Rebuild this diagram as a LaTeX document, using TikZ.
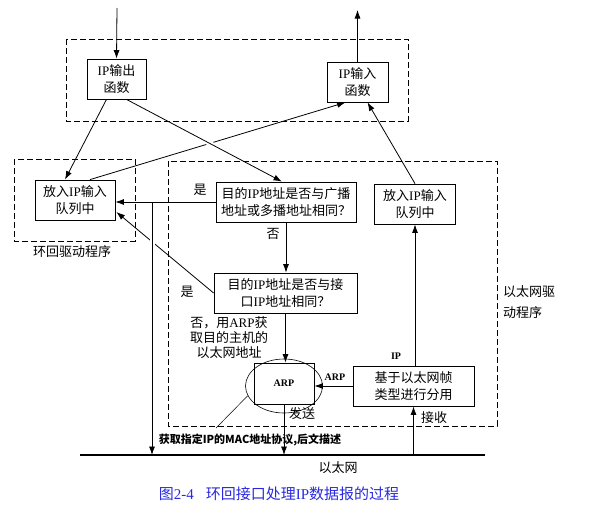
\documentclass[tikz,border=0pt]{standalone}
\usepackage{fontspec}
\setmainfont{Noto Sans CJK SC}
\newfontfamily\serifen{Liberation Serif}
\usetikzlibrary{arrows.meta,shapes.geometric,calc}
\newcommand\en[1]{{\serifen #1}}
\definecolor{capblue}{RGB}{40,40,225}
\begin{document}
\begin{tikzpicture}[x=1pt,y=-1pt,
  box/.style={draw, line width=0.8pt, inner sep=0pt, align=center, font=\fontsize{13}{17}\selectfont},
  grp/.style={draw, dash pattern=on 6pt off 3pt, line width=0.8pt},
  arr/.style={-{Latex[length=8.5pt,width=6pt]}, line width=0.8pt},
  lbl/.style={font=\fontsize{13}{17}\selectfont, inner sep=0pt},
  small/.style={font=\serifen\bfseries\fontsize{10}{12}\selectfont, inner sep=0pt},
  gap/.style={draw=white, line width=5pt},
]
\useasboundingbox (0,0) rectangle (589,509);
% dashed groups
\draw[grp] (66,39) rectangle (408,121);
\draw[grp] (14,159) rectangle (135,241);
\draw[grp] (168,161) rectangle (497,426);
% boxes
\node[box, minimum width=59pt, minimum height=40pt] (outfn) at (116.5,79) {\en{IP}输出\\函数};
\node[box, minimum width=61pt, minimum height=40pt] (infn) at (357.5,82) {\en{IP}输入\\函数};
\node[box, minimum width=80pt, minimum height=40pt] (lq) at (75,200) {放入\en{IP}输入\\队列中};
\node[box, minimum width=81pt, minimum height=40pt] (rq) at (415,204) {放入\en{IP}输入\\队列中};
\node[box, minimum width=140pt, minimum height=40pt] (d1) at (286,202) {目的\en{IP}地址是否与广播\\地址或多播地址相同？};
\node[box, minimum width=143pt, minimum height=40pt] (d2) at (285.5,293) {目的\en{IP}地址是否与接\\口\en{IP}地址相同？};
\node[box, minimum width=60pt, minimum height=41pt] (arp) at (284,383.5) {\en{\bfseries\fontsize{10}{12}\selectfont ARP}};
\node[draw, ellipse, line width=0.6pt, minimum width=77pt, minimum height=54pt, inner sep=0pt] (ell) at (284,386) {};
\node[box, minimum width=121pt, minimum height=40pt] (demux) at (413.5,386) {基于以太网帧\\类型进行分用};
% ethernet
\coordinate (e1) at (80,455);
\coordinate (e2) at (485,455);
\draw[line width=2.5pt] (e1) -- (e2);
% external arrows
\coordinate (intop) at (117,8);
\coordinate (outtop) at (358,10);
\draw[arr] (intop) -- (outfn.north);
\draw[arr] (infn.north) -- (infn.north |- outtop);
% lq -> infn
\draw[arr] ($(lq.north)+(15,0)$) -- ($(infn.south)+(-12,0)$);
% outfn -> lq
\draw[arr] ($(outfn.south)+(-10,0)$) -- ($(lq.north)+(-10,0)$);
% outfn -> d1 with gap over previous line
\path ($(outfn.south)+(10,0)$) -- ($(d1.north)+(-4,0)$) coordinate[pos=0.49] (bw1) coordinate[pos=0.59] (bw2);
\draw[gap] (bw1) -- (bw2);
\draw[arr] ($(outfn.south)+(10,0)$) -- ($(d1.north)+(-4,0)$);
% rq -> infn
\draw[arr] (rq.north) -- ($(infn.south)+(10,0)$);
% d1 -> lq (yes)
\draw[arr] (d1.west) -- (d1.west -| lq.east);
\coordinate (j) at (152,202);
% d2 -> lq (yes)
\draw[arr] (d2.west) -- ($(lq.east)+(1,12)$);
\draw[gap] (152,234) -- (152,250);
% loopback down to ethernet
\draw[arr] (j) -- (j |- e1);
% d1 -> d2
\draw[arr] (d1.south) -- (d1.south |- d2.north);
% d2 -> arp
\draw[arr] (d2.south) -- (d2.south |- arp.north);
% arp -> ethernet
\draw[arr] (arp.south) -- (arp.south |- e1);
% demux -> arp
\draw[arr] (demux.west) -- (demux.west -| arp.east);
% demux -> rq
\draw[arr] (rq.south |- demux.north) -- (rq.south);
% ethernet -> demux
\draw[arr] (demux.south |- e1) -- (demux.south);
% annotation
\coordinate (ann) at (216,428);
\draw[line width=0.5pt] (ell.195) -- (ann);
\node[inner sep=0pt, font=\bfseries\fontsize{11}{13}\selectfont] (anntext) at (250,440) {获取指定IP的MAC地址协议,后文描述};
% labels
\node[lbl] (yes1) at (200,190) {是};
\node[lbl] (no1) at (273,234) {否};
\node[lbl] (yes2) at (187,292) {是};
\node[lbl, align=center, font=\fontsize{13}{15}\selectfont] (no2) at (229,338) {否，用\en{ARP}获\\取目的主机的\\以太网地址};
\node[small] (larp) at (335,377) {ARP};
\node[small] (lip) at (396,356) {IP};
\node[lbl] (send) at (302,414) {发送};
\node[lbl] (recv) at (434,418) {接收};
\node[lbl] (eth) at (338,468) {以太网};
\node[lbl, align=left, anchor=west, font=\fontsize{13}{21}\selectfont] (ethdrv) at (503,302) {以太网驱\\动程序};
\node[lbl] (lodrv) at (72,252) {环回驱动程序};
\node[inner sep=0pt, text=capblue, font=\fontsize{15}{18}\selectfont] (cap) at (279,494) {图\en{2-4}\hspace{12pt}环回接口处理\en{IP}数据报的过程};
\end{tikzpicture}
\end{document}
